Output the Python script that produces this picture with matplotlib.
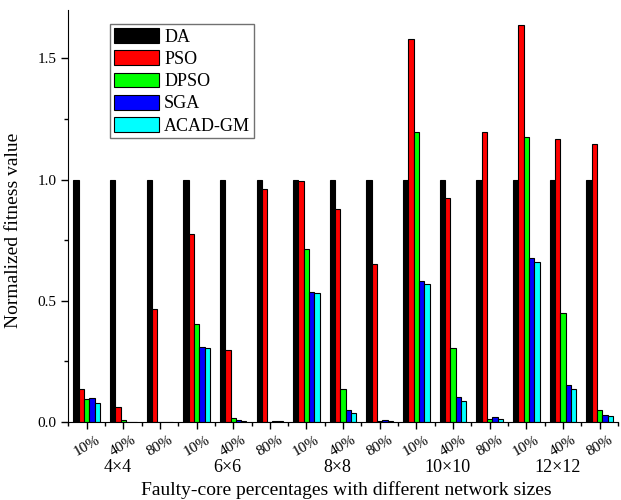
import matplotlib.pyplot as plt
import numpy as np
from matplotlib.ticker import MultipleLocator

plt.rcParams['font.family'] = ['Liberation Serif', 'DejaVu Serif']

pcts = ['10%', '40%', '80%'] * 5
sizes = ['4×4', '6×6', '8×8', '10×10', '12×12']
methods = ['DA', 'PSO', 'DPSO', 'SGA', 'ACAD-GM']
colors = ['#000000', '#ff0000', '#00ff00', '#0000ff', '#00ffff']

da = [1.0] * 15
pso = [0.135, 0.062, 0.466, 0.777, 0.298, 0.960, 0.996, 0.877, 0.650,
       1.580, 0.926, 1.197, 1.638, 1.169, 1.149]
dpso = [0.094, 0.008, 0.0, 0.406, 0.015, 0.002, 0.712, 0.135, 0.003,
        1.197, 0.306, 0.014, 1.178, 0.450, 0.048]
sga = [0.098, 0.002, 0.0, 0.308, 0.007, 0.004, 0.535, 0.050, 0.008,
       0.583, 0.103, 0.022, 0.675, 0.154, 0.030]
acad = [0.077, 0.001, 0.0, 0.307, 0.004, 0.003, 0.533, 0.037, 0.005,
        0.571, 0.088, 0.014, 0.661, 0.135, 0.025]
series = [da, pso, dpso, sga, acad]

fig = plt.figure(figsize=(6.21, 5.0), dpi=100)
ax = fig.add_axes([0.11, 0.156, 0.885, 0.824])

x = np.arange(len(pcts))
width = 0.145
for i, (vals, name, c) in enumerate(zip(series, methods, colors)):
    ax.bar(x + (i - 2) * width, vals, width, color=c, edgecolor='black',
           linewidth=0.8, label=name)

ax.set_xlim(-0.5, 14.5)
ax.set_ylim(0, 1.7)
ax.yaxis.set_major_locator(MultipleLocator(0.5))
ax.yaxis.set_minor_locator(MultipleLocator(0.25))
ax.set_xticks(x)
ax.set_xticks(np.arange(-0.5, 15, 1), minor=True)
ax.set_xticklabels(pcts, rotation=30, ha='center', fontsize=11)
ax.tick_params(axis='both', which='major', length=5, width=1, labelsize=11)
ax.tick_params(axis='x', which='major', labelsize=11, pad=3)
ax.tick_params(axis='both', which='minor', length=3, width=1)
ax.spines['top'].set_visible(False)
ax.spines['right'].set_visible(False)

ax.set_ylabel('Normalized fitness value', fontsize=14)
ax.yaxis.set_label_coords(-0.085, 0.466)
ax.set_xlabel('Faulty-core percentages with different network sizes',
              fontsize=14)
ax.xaxis.set_label_coords(0.505, -0.143)

for k, s in enumerate(sizes):
    ax.text(3 * k + 1 - 0.15, -0.11, s, ha='center', va='center',
            fontsize=13, transform=ax.get_xaxis_transform())

leg = ax.legend(loc='upper left', bbox_to_anchor=(0.076, 0.965),
                fontsize=13, fancybox=False, edgecolor='0.3',
                handlelength=2.5, handleheight=0.9, labelspacing=0.25,
                borderpad=0.2, handletextpad=0.3, borderaxespad=0)
leg.get_frame().set_linewidth(1.0)

fig.savefig('out.png', dpi=100)
